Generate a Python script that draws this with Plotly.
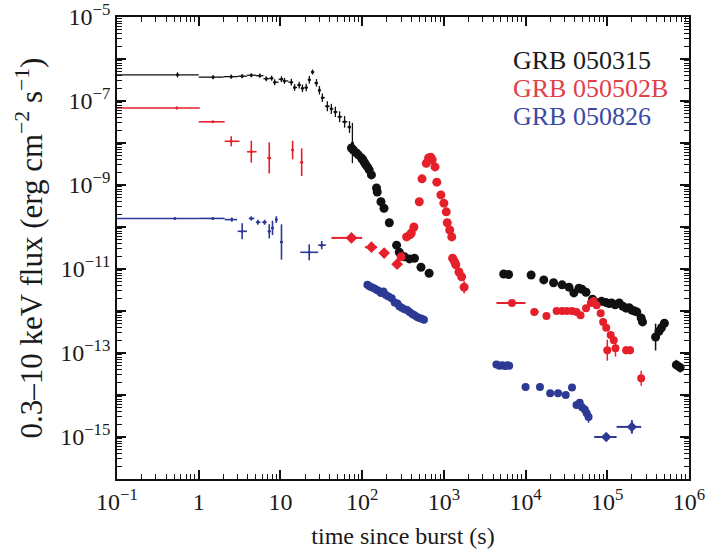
import plotly.graph_objects as go

# ---------------- GRB 050315 ----------------
# early, binned light curve (crosses)
t_315_a = [0.55, 1.5, 2.5, 3.4, 4.4, 5.6, 6.7, 7.8, 8.5, 10.3, 11.2, 13.6, 14.9, 17.0,
           18.6, 20.7, 22.6, 24.7, 27.6, 30.0, 32.6, 37.5, 42.0, 47.0, 53.0, 61.0, 70.0, 76.0]
t_315_a_lo = [0.10, 1.0, 2.0, 3.0, 3.9, 5.0, 6.2, 7.3, 8.2, 9.5, 10.8, 12.5, 14.3, 16.0,
              17.8, 19.6, 21.6, 23.6, 26.0, 28.8, 31.3, 35.0, 40.0, 44.5, 50.0, 57.0, 66.0, 73.0]
t_315_a_hi = [1.0, 2.0, 3.0, 3.9, 5.0, 6.2, 7.3, 8.2, 9.5, 10.8, 12.5, 14.3, 16.0, 17.8,
              19.6, 21.6, 23.6, 26.0, 28.8, 31.3, 35.0, 40.0, 44.5, 50.0, 57.0, 66.0, 73.0, 79.0]
f_315_a = [4.2e-7, 3.7e-7, 3.8e-7, 3.9e-7, 4.1e-7, 4.0e-7, 3.4e-7, 3.5e-7, 2.8e-7, 3.3e-7,
           3.0e-7, 2.8e-7, 2.1e-7, 2.4e-7, 2.0e-7, 2.1e-7, 3.2e-7, 4.9e-7, 2.7e-7, 1.8e-7,
           1.2e-7, 7.5e-8, 6.5e-8, 5.5e-8, 4.2e-8, 3.2e-8, 2.4e-8, 1.0e-8]
dex_315_a = [0.06, 0.05, 0.05, 0.05, 0.05, 0.05, 0.06, 0.06, 0.07, 0.07, 0.07, 0.08, 0.08,
             0.08, 0.09, 0.09, 0.09, 0.06, 0.09, 0.10, 0.10, 0.12, 0.12, 0.12, 0.13, 0.14,
             0.14, 0.48]
# steep decay
t_315_b = [74, 78, 85, 90, 98, 102, 106, 110, 116, 122, 130, 150, 153, 170, 185, 215,
           264, 285, 330, 380, 437, 525, 660]
f_315_b = [7.6e-9, 6.8e-9, 5.8e-9, 5.2e-9, 4.4e-9, 4.0e-9, 3.5e-9, 3.1e-9, 2.7e-9, 2.3e-9,
           1.74e-9, 8.5e-10, 6.8e-10, 4.0e-10, 2.8e-10, 1.26e-10, 3.7e-11, 2.5e-11,
           1.95e-11, 1.74e-11, 1.8e-11, 1.1e-11, 7.9e-12]
dex_315_b = [0.04] * len(t_315_b)
# late-time plateau and decay
t_315_c = [5.4e3, 6.2e3, 1.17e4, 1.67e4, 2.2e4, 2.8e4, 3.4e4, 3.9e4, 4.5e4, 4.9e4, 5.5e4,
           6.6e4, 7.4e4, 8.5e4, 9.6e4, 1.05e5, 1.13e5, 1.25e5, 1.4e5, 1.55e5, 1.7e5,
           1.85e5, 2.0e5, 2.15e5, 2.3e5, 2.6e5, 2.7e5, 3.9e5, 4.3e5, 4.6e5, 5.0e5, 7.0e5, 7.8e5]
f_315_c = [7.6e-12, 7.4e-12, 7.2e-12, 5.5e-12, 4.7e-12, 4.2e-12, 3.7e-12, 2.7e-12, 3.5e-12,
           3.3e-12, 2.8e-12, 1.9e-12, 1.6e-12, 1.7e-12, 1.6e-12, 1.5e-12, 1.55e-12, 1.4e-12,
           1.55e-12, 1.3e-12, 1.17e-12, 1.2e-12, 1.05e-12, 1.0e-12, 9.5e-13, 6.8e-13,
           5.5e-13, 2.4e-13, 3.3e-13, 4.0e-13, 5.1e-13, 5.2e-14, 4.5e-14]
dex_315_c = [0.04] * 27 + [0.32, 0.15, 0.08, 0.06, 0.12, 0.12]

# ---------------- GRB 050502B ----------------
t_502_a = [0.54, 1.49, 2.5, 4.4, 7.3, 14.1, 18.2]
t_502_a_lo = [0.10, 1.0, 2.08, 3.9, 6.9, 13.6, 17.6]
t_502_a_hi = [1.03, 2.08, 3.15, 5.1, 7.7, 14.6, 18.8]
f_502_a = [6.8e-8, 3.2e-8, 1.1e-8, 6.2e-9, 4.4e-9, 6.8e-9, 3.5e-9]
dex_502_a = [0.03, 0.02, 0.12, 0.26, 0.37, 0.22, 0.33]
# binned points before the flare
t_502_b = [74, 130, 186, 268]
t_502_b_lo = [42, 108, 165, 240]
t_502_b_hi = [100, 152, 210, 300]
f_502_b = [5.5e-11, 3.3e-11, 2.4e-11, 1.3e-11]
dex_502_b = [0.06, 0.08, 0.08, 0.10]
# giant X-ray flare
t_502_c = [300, 350, 385, 400, 430, 500, 540, 610, 650, 690, 720, 780, 820, 920, 1000,
           1070, 1100, 1180, 1250, 1280, 1350, 1400, 1530, 1650, 1770]
f_502_c = [1.95e-11, 5.8e-11, 6.5e-11, 7.2e-11, 1.0e-10, 4.0e-10, 1.4e-9, 3.3e-9, 4.4e-9,
           4.6e-9, 4.0e-9, 2.7e-9, 1.17e-9, 5.8e-10, 3.7e-10, 2.3e-10, 1.26e-10, 8.5e-11,
           5.8e-11, 1.8e-11, 1.5e-11, 1.26e-11, 8.5e-12, 6.5e-12, 3.7e-12]
dex_502_c = [0.05] * 20 + [0.08, 0.08, 0.10, 0.10, 0.15]
# late binned points
t_502_d = [6.8e3, 1.28e4, 1.8e4]
t_502_d_lo = [4.4e3, 1.15e4, 1.7e4]
t_502_d_hi = [1.0e4, 1.45e4, 1.9e4]
f_502_d = [1.55e-12, 9.5e-13, 7.6e-13]
dex_502_d = [0.05, 0.05, 0.05]
# late flare and decay
t_502_e = [2.4e4, 2.8e4, 3.2e4, 3.7e4, 4.2e4, 4.7e4, 5.5e4, 6.3e4, 6.8e4, 7.4e4, 8.3e4,
           8.9e4, 9.7e4, 1.1e5, 1.2e5, 1.0e5, 1.26e5, 1.7e5, 1.9e5, 2.6e5]
f_502_e = [1.0e-12, 1.0e-12, 1.0e-12, 1.0e-12, 9.5e-13, 7.9e-13, 1.17e-12, 1.55e-12,
           1.74e-12, 1.38e-12, 8.9e-13, 5.5e-13, 4.0e-13, 2.7e-13, 2.0e-13, 1.17e-13,
           1.3e-13, 1.17e-13, 1.17e-13, 2.5e-14]
dex_502_e = [0.04] * 15 + [0.25, 0.2, 0.1, 0.1, 0.18]

# ---------------- GRB 050826 ----------------
t_826_a = [0.51, 1.49, 2.54, 3.4, 4.4, 5.3, 6.4, 7.3, 8.0, 8.9, 10.3, 22.5, 32]
t_826_a_lo = [0.10, 1.0, 2.08, 3.0, 4.1, 5.0, 6.0, 7.0, 7.7, 8.6, 10.0, 17.5, 29]
t_826_a_hi = [1.0, 2.08, 2.95, 3.9, 4.8, 5.7, 6.8, 7.6, 8.3, 9.2, 10.6, 29, 36]
f_826_a = [1.6e-10, 1.6e-10, 1.5e-10, 7.9e-11, 1.6e-10, 1.3e-10, 1.3e-10, 7.9e-11, 9.5e-11,
           1.5e-10, 4.4e-11, 2.5e-11, 3.7e-11]
dex_826_a = [0.03, 0.03, 0.05, 0.19, 0.05, 0.06, 0.06, 0.17, 0.17, 0.08, 0.42, 0.19, 0.10]
t_826_b = [116, 123, 130, 140, 150, 160, 170, 182, 195, 210, 230, 250, 270, 285, 305, 330,
           355, 380, 410, 437, 470, 500, 535, 570]
f_826_b = [4.2e-12, 3.9e-12, 3.7e-12, 3.5e-12, 3.2e-12, 3.0e-12, 2.7e-12, 2.9e-12, 2.4e-12,
           2.2e-12, 2.0e-12, 1.6e-12, 1.5e-12, 1.3e-12, 1.2e-12, 1.1e-12, 1.05e-12, 9.5e-13,
           8.5e-13, 7.9e-13, 7.2e-13, 6.8e-13, 6.5e-13, 6.2e-13]
dex_826_b = [0.04] * len(t_826_b)
t_826_c = [4.4e3, 4.8e3, 5.2e3, 5.6e3, 6.0e3, 6.3e3, 1.0e4, 1.5e4, 2.0e4, 2.5e4, 3.1e4,
           3.7e4, 4.2e4, 4.6e4, 4.9e4, 5.3e4, 5.6e4, 5.9e4]
f_826_c = [5.3e-14, 5.0e-14, 5.1e-14, 4.9e-14, 5.1e-14, 5.0e-14, 1.55e-14, 1.55e-14,
           1.1e-14, 1.1e-14, 1.0e-14, 1.5e-14, 5.8e-15, 6.5e-15, 5.1e-15, 4.5e-15,
           3.7e-15, 3.0e-15]
dex_826_c = [0.04] * 12 + [0.08, 0.08, 0.08, 0.1, 0.12, 0.14]
t_826_d = [9.7e4, 2.0e5]
t_826_d_lo = [6.9e4, 1.3e5]
t_826_d_hi = [1.3e5, 2.6e5]
f_826_d = [1.0e-15, 1.74e-15]
dex_826_d = [0.06, 0.16]

burst_names = ["GRB 050315", "GRB 050502B", "GRB 050826"]
burst_colors = ["#111111", "#e5202b", "#2c3a95"]
label_colors = ["#1a1a1a", "#e0404a", "#3a4aa3"]

x_tick_vals = [1e-1, 1, 10, 1e2, 1e3, 1e4, 1e5, 1e6]
x_tick_text = ["10<sup>\u22121</sup>", "1", "10", "10<sup>2</sup>", "10<sup>3</sup>",
               "10<sup>4</sup>", "10<sup>5</sup>", "10<sup>6</sup>"]
y_tick_vals = [10.0 ** e for e in range(-16, -4)]
y_tick_text = ["" if e % 2 == 0 else "10<sup>\u2212%d</sup>" % (-e) for e in range(-16, -4)]

FONT = "Liberation Serif, Times New Roman, serif"

fig = go.Figure()


def add_points(t, f, dex, color, size, symbol="circle", t_lo=None, t_hi=None, lw=1.5):
    up = [v * (10 ** d - 1) for v, d in zip(f, dex)]
    dn = [v * (1 - 10 ** -d) for v, d in zip(f, dex)]
    ex = dict(visible=False)
    if t_lo is not None:
        ex = dict(type="data", symmetric=False,
                  array=[h - x for h, x in zip(t_hi, t)],
                  arrayminus=[x - l for x, l in zip(t, t_lo)],
                  color=color, thickness=lw, width=0)
    fig.add_trace(go.Scatter(
        x=t, y=f, mode="markers",
        marker=dict(color=color, size=size, symbol=symbol, line=dict(width=0)),
        error_x=ex,
        error_y=dict(type="data", symmetric=False, array=up, arrayminus=dn,
                     color=color, thickness=lw, width=0),
        showlegend=False, hoverinfo="skip"))


k, r, b = burst_colors
# GRB 050315
add_points(t_315_a, f_315_a, dex_315_a, k, 3, t_lo=t_315_a_lo, t_hi=t_315_a_hi, lw=1.3)
add_points(t_315_b, f_315_b, dex_315_b, k, 9)
add_points(t_315_c, f_315_c, dex_315_c, k, 9)
# GRB 050502B
add_points(t_502_a, f_502_a, dex_502_a, r, 3, t_lo=t_502_a_lo, t_hi=t_502_a_hi, lw=1.6)
add_points(t_502_b, f_502_b, dex_502_b, r, 9, symbol="diamond", t_lo=t_502_b_lo, t_hi=t_502_b_hi, lw=2)
add_points(t_502_c, f_502_c, dex_502_c, r, 9)
add_points(t_502_d, f_502_d, dex_502_d, r, 8, t_lo=t_502_d_lo, t_hi=t_502_d_hi, lw=2)
add_points(t_502_e, f_502_e, dex_502_e, r, 8)
# GRB 050826
add_points(t_826_a, f_826_a, dex_826_a, b, 3, t_lo=t_826_a_lo, t_hi=t_826_a_hi, lw=1.6)
add_points(t_826_b, f_826_b, dex_826_b, b, 8)
add_points(t_826_c, f_826_c, dex_826_c, b, 8)
add_points(t_826_d, f_826_d, dex_826_d, b, 8, symbol="diamond", t_lo=t_826_d_lo, t_hi=t_826_d_hi, lw=2)

# name labels in the upper right
for i, (name, col) in enumerate(zip(burst_names, label_colors)):
    fig.add_annotation(x=0.689, y=0.905 - 0.0605 * i, xref="paper", yref="paper",
                       text=name, showarrow=False, xanchor="left", yanchor="middle",
                       font=dict(family=FONT, size=26, color=col))

x_minor = [m * 10.0 ** e for e in range(-1, 6) for m in range(2, 10)]
y_minor = [m * 10.0 ** e for e in range(-16, -5) for m in range(2, 10)]

axis_common = dict(type="log", showgrid=False, zeroline=False, showline=True,
                   linecolor="#111", linewidth=1.6, mirror="allticks", ticks="inside",
                   ticklen=9, tickwidth=1.6, tickcolor="#111", automargin=False,
                   tickfont=dict(family=FONT, size=24, color="#1a1a1a"))

fig.update_layout(
    width=712, height=558,
    margin=dict(l=117, r=23, t=17, b=79),
    paper_bgcolor="white", plot_bgcolor="white",
    xaxis=dict(**axis_common, range=[-1, 6], tickmode="array",
               tickvals=x_tick_vals, ticktext=x_tick_text,
               minor=dict(tickmode="array", tickvals=x_minor, ticks="inside", ticklen=5,
                          tickwidth=1.2, tickcolor="#111"),
               title=dict(text="time since burst (s)", standoff=14,
                          font=dict(family=FONT, size=24, color="#1a1a1a"))),
    yaxis=dict(**axis_common, range=[-16, -5], tickmode="array",
               tickvals=y_tick_vals, ticktext=y_tick_text,
               minor=dict(tickmode="array", tickvals=y_minor, ticks="inside", ticklen=5,
                          tickwidth=1.2, tickcolor="#111"),
               title=dict(text="0.3\u201310 keV flux (erg cm<sup>\u22122</sup> s<sup>\u22121</sup>)",
                          standoff=8, font=dict(family=FONT, size=31, color="#1a1a1a"))),
)

fig.write_html("out.html")
